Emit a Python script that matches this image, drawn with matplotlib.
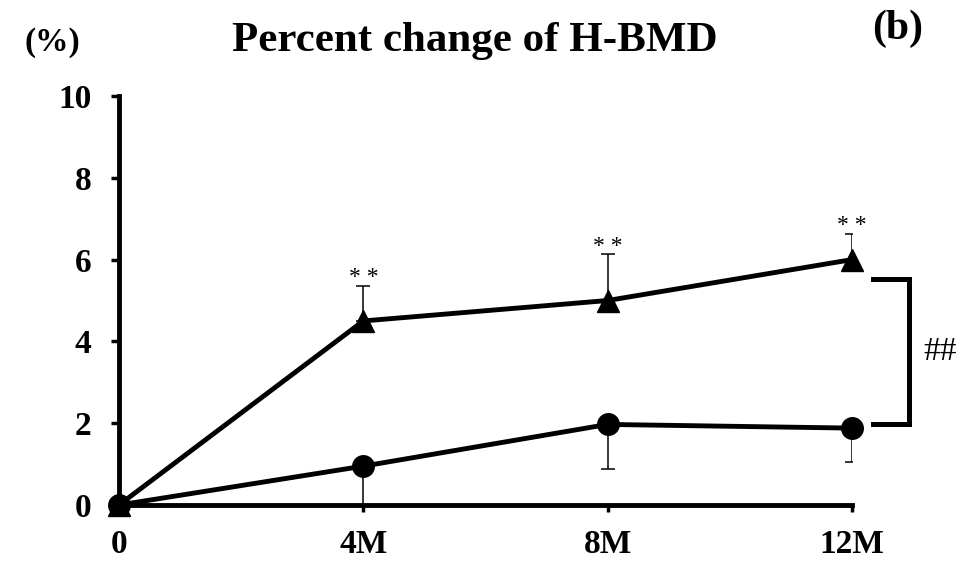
import matplotlib
matplotlib.use("Agg")
import matplotlib.pyplot as plt

# Time points and group means / SDs (percent change of hip BMD)
x_labels = ["0", "4M", "8M", "12M"]
months = [0, 4, 8, 12]
treated_mean = [0.0, 4.5, 5.0, 6.0]
treated_sd = [0.0, 0.85, 1.13, 0.63]
control_mean = [0.0, 0.95, 1.97, 1.88]
control_sd = [0.0, 0.95, 1.09, 0.83]
star_labels = ["", "* *", "* *", "* *"]
y_ticks = [0, 2, 4, 6, 8, 10]

plt.rcParams["font.family"] = ["Liberation Serif", "DejaVu Serif"]

fig = plt.figure(figsize=(9.79, 5.62), dpi=100)
ax = fig.add_axes([119 / 979, 57 / 562, 733 / 979, 409 / 562])

lw = 3.5
# treated group: triangles with upward error bars
ax.errorbar(months, treated_mean, yerr=[[0] * 4, treated_sd], fmt="none",
            ecolor="black", elinewidth=1.1, capsize=5, capthick=1.1, zorder=2)
ax.plot(months, treated_mean, color="black", lw=lw, marker="^",
        markersize=16, zorder=3, clip_on=False)
# control group: circles with downward error bars
ax.errorbar(months, control_mean, yerr=[control_sd, [0] * 4], fmt="none",
            ecolor="black", elinewidth=1.1, capsize=5, capthick=1.1, zorder=2)
ax.plot(months, control_mean, color="black", lw=lw, marker="o",
        markersize=15.5, zorder=4, clip_on=False)

# significance stars above the treated error bars
for m, mu, sd, s in zip(months, treated_mean, treated_sd, star_labels):
    if s:
        ax.annotate(s, (m, mu + sd), xytext=(0, 2), textcoords="offset points",
                    ha="center", va="baseline", fontsize=17)

# between-group bracket at 12M
x0, x1 = 12.35, 12.93
ytop, ybot = 5.53, 1.98
ax.plot([x0, x1, x1, x0], [ytop, ytop, ybot, ybot], color="black", lw=3.6,
        clip_on=False, solid_joinstyle="miter")
ax.text(13.44, (ytop + ybot) / 2, "##", ha="center", va="center",
        fontsize=24, clip_on=False)

ax.set_xlim(0, 12)
ax.set_ylim(0, 10)
ax.set_xticks(months)
ax.set_xticklabels(x_labels)
ax.set_yticks(y_ticks)
ax.set_yticklabels([str(v) for v in y_ticks])
for lab in ax.get_xticklabels() + ax.get_yticklabels():
    lab.set_fontweight("bold")
    lab.set_fontsize(24)

for side in ["top", "right"]:
    ax.spines[side].set_visible(False)
for side in ["left", "bottom"]:
    ax.spines[side].set_linewidth(3.5)
ax.tick_params(axis="y", direction="out", length=6, width=2.5, pad=14)
ax.tick_params(axis="x", direction="out", length=5, width=2.5, pad=12)

fig.text(475 / 979, 1 - 41 / 562, "Percent change of H-BMD", ha="center",
         va="center", fontsize=31, fontweight="bold")
fig.text(52 / 979, 1 - 43 / 562, "(%)", ha="center", va="center",
         fontsize=24, fontweight="bold")
fig.text(898 / 979, 1 - 29 / 562, "(b)", ha="center", va="center",
         fontsize=30, fontweight="bold")

fig.savefig("out.png", dpi=100)
